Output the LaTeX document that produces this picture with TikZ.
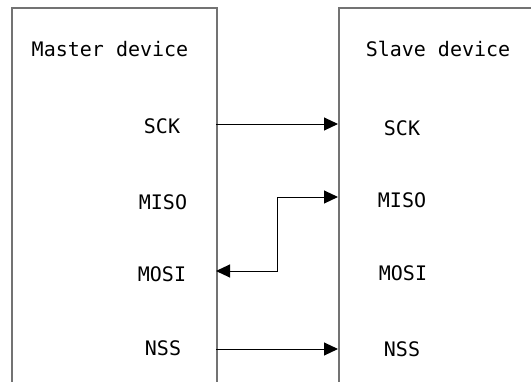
\documentclass[tikz,border=0pt]{standalone}
\usepackage{fontspec}
\setmonofont{DejaVu Sans Mono}
\usetikzlibrary{arrows.meta}
\tikzset{
    devbox/.style={draw=black!55, line width=1.5pt, anchor=north west, inner sep=0pt},
    title/.style={font=\ttfamily\fontsize{20}{20}\selectfont, inner sep=0pt},
    pin/.style={font=\ttfamily\fontsize{20}{20}\selectfont, inner sep=0pt},
    sig/.style={line width=1pt, -{Triangle[length=14pt, width=13pt]}}
}
\begin{document}
\begin{tikzpicture}[x=1pt, y=-1pt]
    \useasboundingbox (0,0) rectangle (531,381);
    \clip (0,0) rectangle (531,381);

    % boxes (their bottoms and the right side of the slave run off the picture)
    \node[devbox, minimum width=205pt, minimum height=420pt] (master) at (11,7) {};
    \node[devbox, minimum width=230pt, minimum height=420pt] (slave) at (338,7) {};

    % titles
    \node[title] (mtitle) at (110,49) {Master device};
    \node[title] (stitle) at (438,49) {Slave device};

    % pins of the master
    \node[pin] (msck)  at (162,126) {SCK};
    \node[pin] (mmiso) at (163,202) {MISO};
    \node[pin] (mmosi) at (162,274) {MOSI};
    \node[pin] (mnss)  at (163,348) {NSS};

    % pins of the slave
    \node[pin] (ssck)  at (402,128) {SCK};
    \node[pin] (smiso) at (402,200) {MISO};
    \node[pin] (smosi) at (403,273) {MOSI};
    \node[pin] (snss)  at (402,349) {NSS};

    % ends of the lines on the box edges
    \coordinate (sckA)  at (216,124);
    \coordinate (sckB)  at (338,124);
    \coordinate (misoB) at (338,197);
    \coordinate (mosiA) at (216,271);
    \coordinate (nssA)  at (216,349);
    \coordinate (nssB)  at (338,349);

    % signals
    \draw[sig] (sckA) -- (sckB);
    \draw[sig, {Triangle[length=14pt, width=13pt]}-{Triangle[length=14pt, width=13pt]}]
        (mosiA) -- (277,271) -- (277,197) -- (misoB);
    \draw[sig] (nssA) -- (nssB);
\end{tikzpicture}
\end{document}
